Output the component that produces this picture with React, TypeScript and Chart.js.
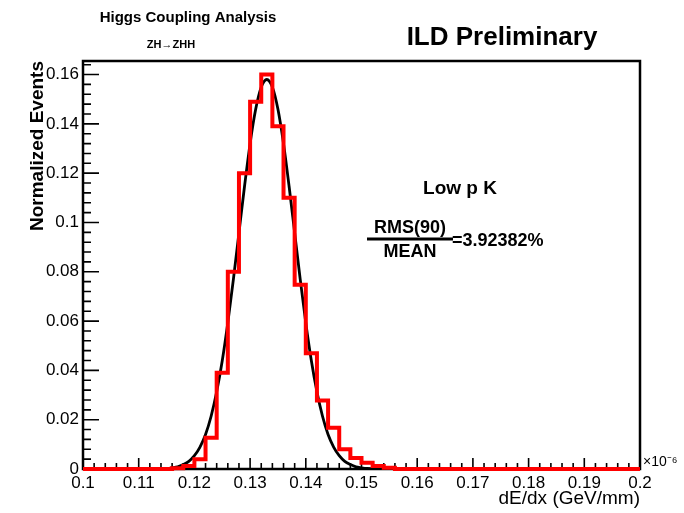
import React, { useEffect, useRef } from 'react';
import { Chart, registerables } from 'chart.js';

Chart.register(...registerables);

// Histogram bins (0.002 wide, centres) and normalized contents
const binCenters = [
  0.101, 0.103, 0.105, 0.107, 0.109, 0.111, 0.113, 0.115, 0.117, 0.119,
  0.121, 0.123, 0.125, 0.127, 0.129, 0.131, 0.133, 0.135, 0.137, 0.139,
  0.141, 0.143, 0.145, 0.147, 0.149, 0.151, 0.153, 0.155, 0.157, 0.159,
  0.161, 0.163, 0.165, 0.167, 0.169, 0.171, 0.173, 0.175, 0.177, 0.179,
  0.181, 0.183, 0.185, 0.187, 0.189, 0.191, 0.193, 0.195, 0.197, 0.199,
];
const binValues = [
  0, 0, 0, 0, 0, 0, 0, 0, 0.0003, 0.0012,
  0.004, 0.0127, 0.039, 0.08, 0.12, 0.149, 0.16, 0.139, 0.11, 0.0747,
  0.047, 0.0278, 0.0167, 0.008, 0.0045, 0.0025, 0.0012, 0.0005, 0, 0,
  0, 0, 0, 0, 0, 0, 0, 0, 0, 0,
  0, 0, 0, 0, 0, 0, 0, 0, 0, 0,
];

// Fitted curve
const fitX = [
  0.112, 0.113, 0.114, 0.115, 0.116, 0.117, 0.118, 0.119, 0.12, 0.121,
  0.122, 0.123, 0.124, 0.125, 0.126, 0.127, 0.128, 0.129, 0.13, 0.131,
  0.132, 0.133, 0.134, 0.135, 0.136, 0.137, 0.138, 0.139, 0.14, 0.141,
  0.142, 0.143, 0.144, 0.145, 0.146, 0.147, 0.148, 0.149, 0.15, 0.151,
  0.152, 0.153, 0.154,
];
const fitY = [
  0, 0.00005, 0.0001, 0.0002, 0.0005, 0.0009, 0.0018, 0.0031, 0.0054, 0.0089,
  0.014, 0.0214, 0.0313, 0.0439, 0.0593, 0.0769, 0.0958, 0.1147, 0.132, 0.1459,
  0.1549, 0.158, 0.1549, 0.1459, 0.132, 0.1147, 0.0958, 0.0769, 0.0593, 0.0439,
  0.0313, 0.0214, 0.014, 0.0089, 0.0054, 0.0031, 0.0018, 0.0009, 0.0005, 0.0002,
  0.0001, 0.00005, 0,
];

const xTickValues = [0.1, 0.11, 0.12, 0.13, 0.14, 0.15, 0.16, 0.17, 0.18, 0.19, 0.2];
const xTickLabels = ['0.1', '0.11', '0.12', '0.13', '0.14', '0.15', '0.16', '0.17', '0.18', '0.19', '0.2'];
const yTickValues = [0, 0.02, 0.04, 0.06, 0.08, 0.1, 0.12, 0.14, 0.16];
const yTickLabels = ['0', '0.02', '0.04', '0.06', '0.08', '0.1', '0.12', '0.14', '0.16'];

const FONT = '"Liberation Sans", Arial, Helvetica, sans-serif';

export default function App() {
  const ref = useRef<HTMLCanvasElement>(null);

  useEffect(() => {
    if (!ref.current) return;
    const histPts = binCenters.map((c, i) => ({ x: c - 0.001, y: binValues[i] }));
    histPts.push({ x: 0.2, y: binValues[binValues.length - 1] });
    const fitPts = fitX.map((x, i) => ({ x, y: fitY[i] }));

    const framePlugin = {
      id: 'rootFrame',
      beforeDatasetsDraw(chart: any) {
        const { ctx, chartArea: a, scales } = chart;
        const xs = scales.x;
        const ys = scales.y;
        ctx.save();
        ctx.strokeStyle = '#000';
        ctx.lineWidth = 1.6;
        ctx.beginPath();
        for (let k = 0; k <= 50; k++) {
          const v = 0.1 + k * 0.002;
          const px = xs.getPixelForValue(v);
          const len = k % 5 === 0 ? 11 : 6;
          ctx.moveTo(px, a.bottom);
          ctx.lineTo(px, a.bottom - len);
        }
        for (let k = 0; k <= 41; k++) {
          const v = k * 0.004;
          if (v > ys.max) break;
          const py = ys.getPixelForValue(v);
          const len = k % 5 === 0 ? 16 : 8;
          ctx.moveTo(a.left, py);
          ctx.lineTo(a.left + len, py);
        }
        ctx.stroke();
        ctx.lineWidth = 2.5;
        ctx.strokeRect(a.left, a.top, a.right - a.left, a.bottom - a.top);
        ctx.restore();
      },
      afterDraw(chart: any) {
        const { ctx } = chart;
        ctx.save();
        ctx.fillStyle = '#000';
        ctx.strokeStyle = '#000';
        ctx.textBaseline = 'middle';
        ctx.textAlign = 'center';
        ctx.font = `bold 15px ${FONT}`;
        ctx.fillText('Higgs Coupling Analysis', 188, 18);
        ctx.font = `bold 11px ${FONT}`;
        ctx.fillText('ZH\u2192ZHH', 171, 45);
        ctx.font = `bold 26px ${FONT}`;
        ctx.fillText('ILD Preliminary', 502, 38);
        ctx.font = `bold 19px ${FONT}`;
        ctx.fillText('Low p K', 460, 189);
        ctx.font = `bold 18px ${FONT}`;
        ctx.fillText('RMS(90)', 410, 228);
        ctx.fillText('MEAN', 410, 252);
        ctx.textAlign = 'left';
        ctx.fillText('=3.92382%', 452, 241);
        ctx.lineWidth = 3;
        ctx.beginPath();
        ctx.moveTo(367, 239);
        ctx.lineTo(453, 239);
        ctx.stroke();
        ctx.font = `14px ${FONT}`;
        ctx.fillText('\u00d710\u207b\u2076', 643, 462);
        ctx.restore();
      },
    };

    const chart = new Chart(ref.current, {
      type: 'line',
      data: {
        datasets: [
          {
            label: 'hist',
            data: histPts,
            stepped: 'before',
            borderColor: '#ff0000',
            borderWidth: 4,
            pointRadius: 0,
            fill: false,
            clip: false,
          } as any,
          {
            label: 'fit',
            data: fitPts,
            borderColor: '#000',
            borderWidth: 2.8,
            pointRadius: 0,
            fill: false,
            cubicInterpolationMode: 'monotone',
          },
        ],
      },
      options: {
        animation: false,
        responsive: false,
        devicePixelRatio: 1,
        layout: { padding: { left: 0, top: 61, right: 44, bottom: 0 } },
        plugins: { legend: { display: false }, tooltip: { enabled: false } },
        scales: {
          x: {
            type: 'linear',
            min: 0.1,
            max: 0.2,
            afterBuildTicks: (s: any) => {
              s.ticks = xTickValues.map((v) => ({ value: v }));
            },
            afterFit: (s: any) => {
              s.height = 44;
            },
            ticks: {
              autoSkip: false,
              maxRotation: 0,
              padding: 4,
              color: '#000',
              font: { family: FONT, size: 17 },
              callback: (_v: any, i: number) => xTickLabels[i],
            },
            grid: { display: false, drawTicks: false },
            border: { display: false },
            title: {
              display: true,
              text: 'dE/dx (GeV/mm)',
              align: 'end',
              color: '#000',
              font: { family: FONT, size: 19 },
              padding: { top: 0, bottom: 3 },
            },
          },
          y: {
            type: 'linear',
            min: 0,
            max: 0.1655,
            afterBuildTicks: (s: any) => {
              s.ticks = yTickValues.map((v) => ({ value: v }));
            },
            afterFit: (s: any) => {
              s.width = 83;
            },
            ticks: {
              padding: 4,
              color: '#000',
              font: { family: FONT, size: 17 },
              callback: (_v: any, i: number) => yTickLabels[i],
            },
            grid: { display: false, drawTicks: false },
            border: { display: false },
            title: {
              display: true,
              text: 'Normalized Events',
              align: 'end',
              color: '#000',
              font: { family: FONT, size: 19, weight: 'bold' },
              padding: { top: 26, bottom: 0 },
            },
          },
        },
      },
      plugins: [framePlugin],
    });
    return () => chart.destroy();
  }, []);

  return (
    <canvas
      ref={ref}
      width={684}
      height={513}
      style={{ position: 'fixed', left: 0, top: 0, width: 684, height: 513, background: '#fff' }}
    />
  );
}
